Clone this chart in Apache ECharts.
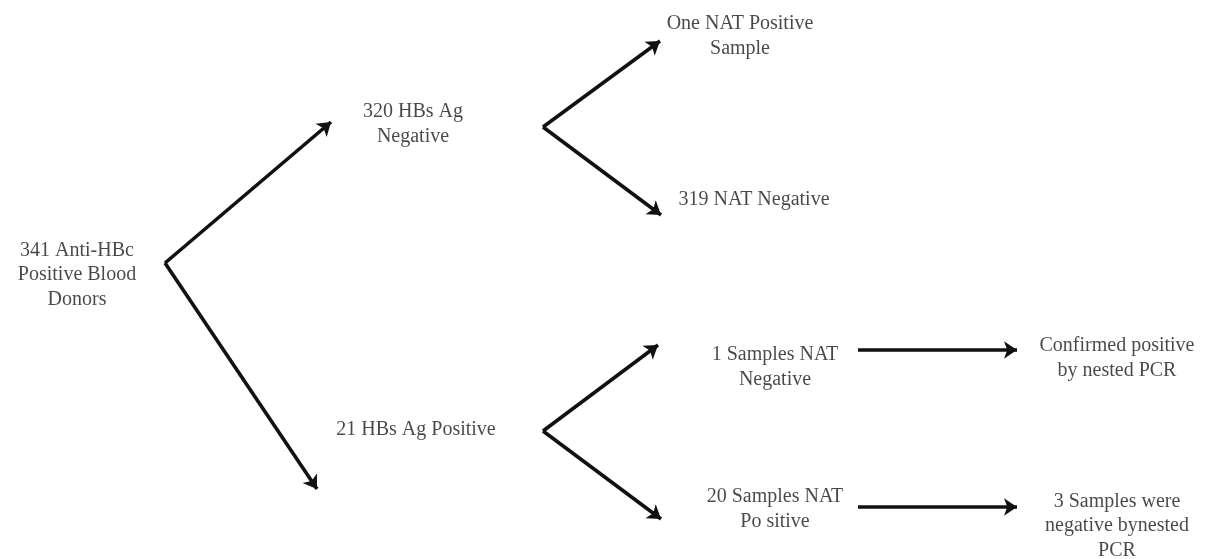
<!DOCTYPE html>
<html><head><meta charset="utf-8">
<script src="https://cdn.jsdelivr.net/npm/echarts@6/dist/echarts.min.js"></script>
<style>html,body{margin:0;padding:0;background:#fff}#c{width:1223px;height:559px}</style>
</head><body><div id="c"></div>
<script>
// Node labels and their layout anchor (centre) in chart units
const nodeText = [
  "341 Anti-HBc\nPositive Blood\nDonors",
  "320 HBs Ag\nNegative",
  "21 HBs Ag Positive",
  "One NAT Positive\nSample",
  "319 NAT Negative",
  "1 Samples NAT\nNegative",
  "20 Samples NAT\nPo sitive",
  "Confirmed positive\nby nested PCR",
  "3 Samples were\nnegative bynested\nPCR"
];
const nodeX = [77, 413, 416, 740, 754, 775, 775, 1117, 1117];
const nodeY = [275, 124, 430, 36, 200, 367, 509, 358, 526];
// Arrows: [fromX, fromY, toX, toY]
const arrowFrom = [[165,263],[165,263],[543,127],[543,127],[543,431],[543,431],[858,350],[858,507]];
const arrowTo   = [[331,122],[317,489],[660,41],[661,215],[658,345],[661,519],[1017,350],[1017,507]];

const chart = echarts.init(document.getElementById('c'));
chart.setOption({
  animation:false,
  backgroundColor:'#fff',
  grid:{left:0,right:0,top:0,bottom:0},
  xAxis:{type:'value',min:0,max:1223,show:false},
  yAxis:{type:'value',min:0,max:559,inverse:true,show:false},
  series:[
    {
      type:'lines',coordinateSystem:'cartesian2d',
      symbol:['none','arrow'],symbolSize:[0,13],
      lineStyle:{color:'#111',width:3.6,opacity:1,curveness:0},
      data:arrowFrom.map((f,i)=>({coords:[f,arrowTo[i]]}))
    },
    {
      type:'scatter',symbolSize:0,silent:true,
      label:{show:true,position:'inside',formatter:p=>nodeText[p.dataIndex],
        fontFamily:'"Liberation Serif", "DejaVu Serif", serif',fontSize:20,lineHeight:24.5,
        color:'#1a1a1a',align:'center',verticalAlign:'middle'},
      data:nodeX.map((x,i)=>[x,nodeY[i]])
    }
  ]
});
</script></body></html>
